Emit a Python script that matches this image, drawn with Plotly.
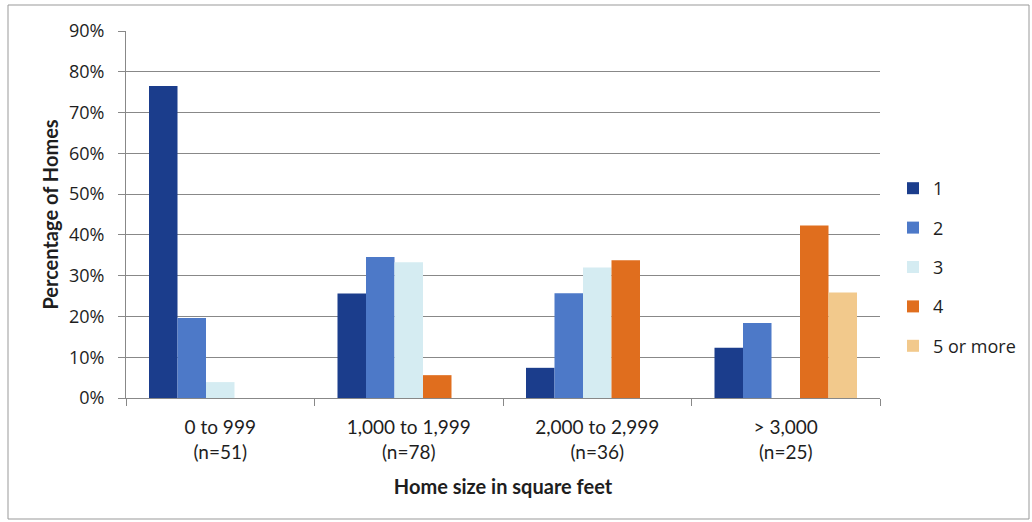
import plotly.graph_objects as go

categories = ["0 to 999<br>(n=51)", "1,000 to 1,999<br>(n=78)", "2,000 to 2,999<br>(n=36)", "> 3,000<br>(n=25)"]
series_names = ["1", "2", "3", "4", "5 or more"]
s1 = [76.5, 25.6, 7.4, 12.3]
s2 = [19.6, 34.6, 25.7, 18.4]
s3 = [3.9, 33.3, 32.0, None]
s4 = [None, 5.6, 33.8, 42.3]
s5 = [None, None, None, 25.9]
series_values = [s1, s2, s3, s4, s5]
colors = ["#1b3d8c", "#4d79c8", "#d5ecf2", "#e06e1e", "#f2c98c"]
y_ticks = [0, 10, 20, 30, 40, 50, 60, 70, 80, 90]
y_tick_labels = ["0%", "10%", "20%", "30%", "40%", "50%", "60%", "70%", "80%", "90%"]

fig = go.Figure()
for i, (name, vals) in enumerate(zip(series_names, series_values)):
    fig.add_trace(go.Bar(
        x=categories, y=vals, name=name, marker_color=colors[i],
        marker_line_width=0, legendgroup=name,
    ))

W, H = 1032, 522
L, R, T, B = 126, 152, 31, 124
pw, ph = W - L - R, H - T - B

def px_x(p):
    return (p - L) / pw

def px_y(p):
    return (H - B - p) / ph

TXT = "#1e1e1e"
fig.update_layout(
    width=W, height=H,
    margin=dict(l=L, r=R, t=T, b=B, autoexpand=False),
    paper_bgcolor="white", plot_bgcolor="white",
    barmode="group", bargap=0.244, bargroupgap=0,
    font=dict(family="Lato, sans-serif", size=18, color=TXT),
    legend=dict(
        x=px_x(893), xanchor="left", y=px_y(170), yanchor="top",
        font=dict(family="Open Sans, sans-serif", size=18, color=TXT),
        tracegroupgap=13, bgcolor="rgba(0,0,0,0)", itemwidth=30,
    ),
    xaxis=dict(
        type="category", tickson="boundaries", ticks="outside", ticklen=7,
        tickcolor="#888", showline=True, linecolor="#888", linewidth=1,
        showgrid=False, tickfont=dict(family="Lato, sans-serif", size=19, color=TXT),
        ticklabelstandoff=12,
        title=dict(text="<b>Home size in square feet</b>", font=dict(family="Lato, sans-serif", size=20, color=TXT), standoff=18),
    ),
    yaxis=dict(
        range=[0, 90], tickvals=y_ticks, ticktext=y_tick_labels,
        ticks="outside", ticklen=7, tickcolor="#888",
        showline=True, linecolor="#888", linewidth=1,
        showgrid=True, gridcolor="#888888", gridwidth=1, zeroline=False,
        tickfont=dict(family="Open Sans, sans-serif", size=18, color=TXT),
        ticklabelstandoff=10,
        title=dict(text="<b>Percentage of Homes</b>", font=dict(family="Lato, sans-serif", size=20, color=TXT), standoff=4),
    ),
    shapes=[dict(
        type="rect", xref="paper", yref="paper",
        x0=px_x(8), x1=px_x(1029), y0=px_y(519), y1=px_y(5),
        line=dict(color="#999", width=1), fillcolor="rgba(0,0,0,0)", layer="below",
    )],
)

fig.write_html("out.html", config={"displayModeBar": False},
               post_script="document.body.style.margin='0px';")
